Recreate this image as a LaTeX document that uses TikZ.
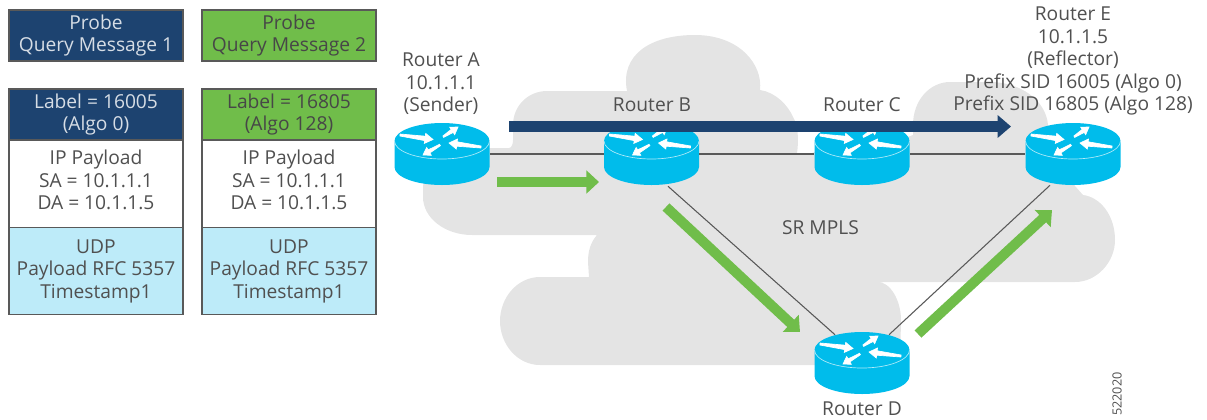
\documentclass[tikz,border=0pt]{standalone}
\usepackage{fontspec}
\usepackage{tikz}
\usetikzlibrary{arrows.meta}
\setmainfont{Open Sans}
\definecolor{navybox}{HTML}{1D4370}
\definecolor{greenbox}{HTML}{70BD4A}
\definecolor{skybox}{HTML}{BDEBF9}
\definecolor{routercyan}{HTML}{00BCEB}
\definecolor{cloudgray}{HTML}{E4E4E4}
\definecolor{textgray}{HTML}{505050}
\tikzset{
msgbox/.style = {draw=black!65, line width=0.8pt, minimum width=130.5pt, inner sep=0pt, align=center, font=\fontsize{14.4}{16.9}\selectfont, execute at begin node=\rule{0pt}{13.5pt}},
bluebox/.style = {msgbox, fill=navybox, text=white!82!navybox},
grnbox/.style = {msgbox, fill=greenbox, text=black!72},
plainbox/.style = {msgbox, fill=white, text=textgray, text depth=6pt},
udpbox/.style = {msgbox, fill=skybox, text=textgray},
lbl/.style = {align=center, inner sep=0pt, text=textgray, font=\fontsize{14.4}{16.9}\selectfont},
routerbox/.style = {minimum width=71.25pt, minimum height=46.5pt, inner sep=0pt},
link/.style = {draw=black!65, line width=0.8pt},
greenflow/.style = {draw=greenbox, line width=7.5pt, -{Triangle[length=9.5pt,width=17pt]}},
blueflow/.style = {draw=navybox, line width=8.2pt, -{Triangle[length=10pt,width=16.5pt]}},
minitip/.style = {fill=white, draw=white, line width=0.5pt}
}
\newcommand{\routericon}[3]{
\node (#1) [routerbox] at (#2,#3) {};
\begin{scope}[shift={(#2,#3)}]
\fill [routercyan] (-47.5,-13) -- (-47.5,13) arc [start angle=180, end angle=0, x radius=47.5, y radius=18] -- (47.5,-13) arc [start angle=0, end angle=-180, x radius=47.5, y radius=18] -- cycle;
\draw [white!70!routercyan, line width=0.5pt] (-47.5,-13) arc [start angle=180, end angle=0, x radius=47.5, y radius=18];
\end{scope}
\begin{scope}[shift={(#2,#3-13)}]
\filldraw [minitip] (-42.1,-5) -- (-17.3,-.4) -- (-17.7,2.4) -- (-9,-1.5) -- (-16.3,-7.6) -- (-16.7,-4.8) -- (-41.9,-7) -- cycle;
\filldraw [minitip] (1.7,-3.6) -- (11.2,-8.6) -- (12.7,-6.4) -- (16,-14) -- (7.7,-13.8) -- (9.2,-11.6) -- (.9,-5) -- cycle;
\filldraw [minitip] (-1.6,4.7) -- (-12.1,11.9) -- (-10.7,14.3) -- (-19,14) -- (-15.3,6.5) -- (-13.9,8.9) -- (-2.4,3.3) -- cycle;
\filldraw [minitip] (39.1,5) -- (15.2,.8) -- (15.5,-2) -- (7,2) -- (14.3,8) -- (14.6,5.2) -- (38.9,7) -- cycle;
\end{scope}
}
\begin{document}
\begin{tikzpicture}[x=0.75pt,y=-0.75pt]
\useasboundingbox (0,0) rectangle (1207,419);
%cloud
\fill [cloudgray] (547,91) .. controls (528,91) and (513,106) .. (513,125) -- (513,140) .. controls (513,145) and (511,148) .. (509,148) -- (470,148) -- (440,160) -- (423,185) -- (423,197) .. controls (423,218) and (445,235) .. (472,235) -- (597,235) .. controls (590,243) and (588,252) .. (588,262) -- (589,277) -- (540,277) .. controls (517,277) and (500,298) .. (500,321) .. controls (500,344) and (517,365) .. (540,365) -- (900,365) -- (901,320) .. controls (901,300) and (890,282) .. (878,282) -- (1075,282) .. controls (1097,282) and (1115,262) .. (1115,240) .. controls (1115,215) and (1100,197) .. (1083,195) -- (1075,186) -- (1048,125) .. controls (1046,100) and (1020,82) .. (990,82) -- (950,82) .. controls (930,82) and (913,100) .. (913,125) -- (913,135) -- (905,138) -- (820,150) -- (812,153) -- (797,153) .. controls (799,140) and (798,125) .. (793,117) .. controls (788,105) and (775,92) .. (760,90) .. controls (763,65) and (740,35) .. (695,35) .. controls (650,35) and (620,55) .. (627,91) -- cycle;

%message boxes
\node (probe1) [bluebox, minimum height=38.25pt] at (96,35.5) {Probe\\Query Message 1};
\node (probe2) [grnbox, minimum height=38.25pt] at (289,35.5) {Probe\\Query Message 2};
\node (label1) [bluebox, minimum height=38.25pt] at (96,114.5) {Label = 16005\\(Algo 0)};
\node (label2) [grnbox, minimum height=38.25pt] at (289,114.5) {Label = 16805\\(Algo 128)};
\node (ip1) [plainbox, minimum height=65.25pt] at (96,184) {IP Payload\\SA = 10.1.1.1\\DA = 10.1.1.5};
\node (ip2) [plainbox, minimum height=65.25pt] at (289,184) {IP Payload\\SA = 10.1.1.1\\DA = 10.1.1.5};
\node (udp1) [udpbox, minimum height=65.25pt] at (96,271) {UDP\\Payload RFC 5357\\Timestamp1};
\node (udp2) [udpbox, minimum height=65.25pt] at (289,271) {UDP\\Payload RFC 5357\\Timestamp1};

%routers
\routericon{rA}{442}{154}
\routericon{rB}{651.5}{154}
\routericon{rC}{862}{154}
\routericon{rD}{862}{363}
\routericon{rE}{1073}{154}

\path [link]
(rA) edge (rB)
(rB) edge (rC)
(rC) edge (rE)
([shift={(16.5,1)}]rB.south) edge ([shift={(-27,3)}]rD.north)
([shift={(27,3)}]rD.north) edge ([shift={(-23,0)}]rE.south);

%flows
\coordinate (ga1) at (497,182);
\coordinate (ga2) at (599,182);
\coordinate (gb1) at (666,207);
\coordinate (gb2) at (800,332);
\coordinate (gc1) at (918,334);
\coordinate (gc2) at (1052,210);
\coordinate (bl1) at (509,126.5);
\coordinate (bl2) at (1011,126.5);
\draw [greenflow] (ga1) -- (ga2);
\draw [greenflow] (gb1) -- (gb2);
\draw [greenflow] (gc1) -- (gc2);
\draw [blueflow] (bl1) -- (bl2);

%labels
\node (lblA) [lbl] at (441,84) {Router A\\10.1.1.1\\(Sender)};
\node (lblB) [lbl] at (652,105) {Router B};
\node (lblC) [lbl] at (862,105) {Router C};
\node (lblD) [lbl] at (862,408.5) {Router D};
\node (lblE) [lbl] at (1073,61) {Router E\\10.1.1.5\\(Reflector)\\Prefix SID 16005 (Algo 0)\\Prefix SID 16805 (Algo 128)};
\node (lblsr) [lbl] at (820.5,228) {SR MPLS};
\node (lblnum) [lbl, rotate=90, font=\fontsize{9.5}{11}\selectfont] at (1117,394) {522020};
\end{tikzpicture}
\end{document}
